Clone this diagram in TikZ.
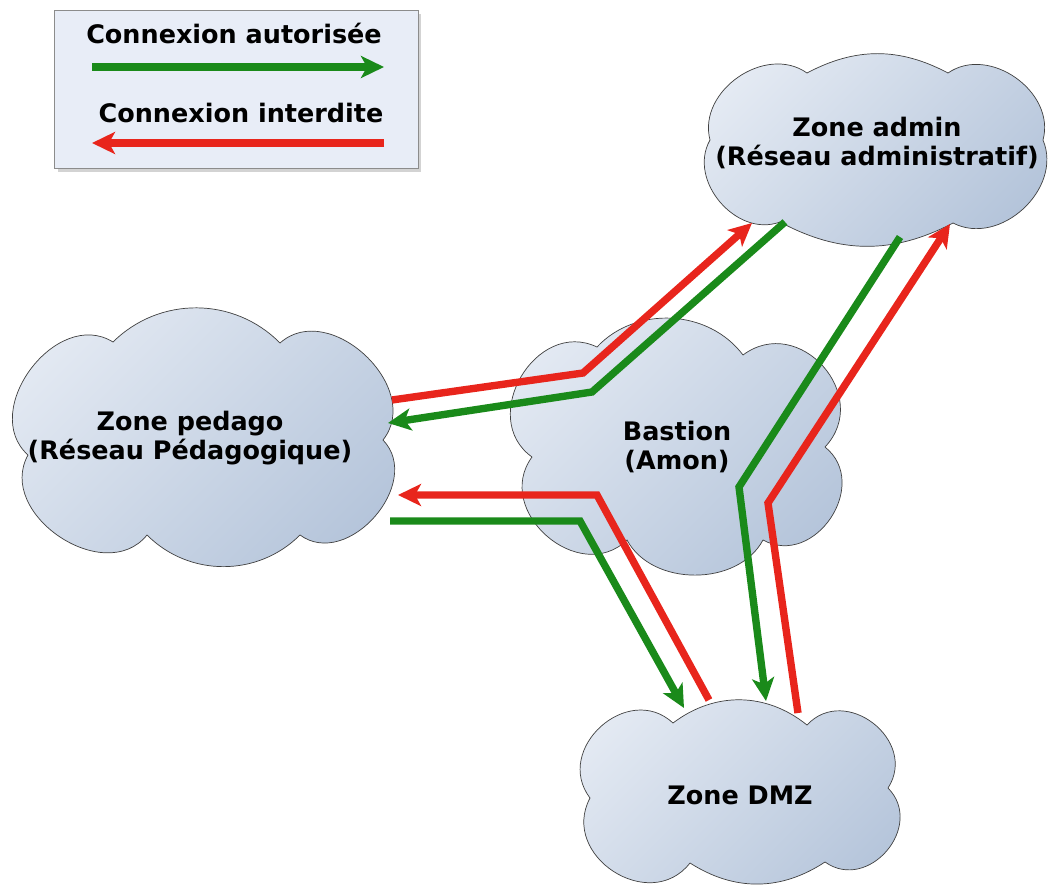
\documentclass[tikz,border=0pt]{standalone}
\usepackage{fontspec}
\setmainfont{DejaVu Sans}
\usetikzlibrary{arrows.meta,shadows,positioning}

\definecolor{okgreen}{HTML}{1A8A1A}
\definecolor{nored}{HTML}{E8251C}
\definecolor{cloudlight}{HTML}{E4EAF3}
\definecolor{clouddark}{HTML}{B4C4DA}
\definecolor{legendfill}{HTML}{E8EDF7}

\tikzset{
          zone/.style={draw=black!75, thin, left color=cloudlight, right color=clouddark, shading angle=45},
          sidepuff/.style={bend left=85, looseness=1.2},
          midpuff/.style={bend left=45},
          lbl/.style={draw=none, fill=none, inner sep=0pt, anchor=center, align=center,
                      font=\bfseries\fontsize{14.5}{17}\selectfont}
        }

\begin{document}
\begin{tikzpicture}[x=0.02cm, y=-0.02cm,
        ok/.style={okgreen, line width=4.2pt, line join=miter,
                   -{Stealth[length=0.46cm, width=0.44cm, inset=0.12cm]}},
        no/.style={nored, line width=4.2pt, line join=miter,
                   -{Stealth[length=0.46cm, width=0.44cm, inset=0.12cm]}}
      ]
  \useasboundingbox (0,0) rectangle (1052,886);

  % legende
  \node[draw=black!45, fill=legendfill, minimum width=7.28cm, minimum height=3.16cm,
        drop shadow={shadow xshift=2pt, shadow yshift=-2pt, opacity=0.35}] (legend) at (236,89) {};
  \node[lbl] (oktext) at (234,33) {Connexion autorisée};
  \node[lbl] (notext) at (241,113) {Connexion interdite};
  \coordinate (okfrom) at (92,67);
  \coordinate (okto) at (384,67);
  \coordinate (nofrom) at (384,143);
  \coordinate (noto) at (92,143);
  \draw[ok] (okfrom) -- (okto);
  \draw[no] (nofrom) -- (noto);

  % nuages
  \draw[zone] (710,140) to[sidepuff, bend left=70, looseness=1.1] (807,73) to[midpuff, bend left=28] (948,73)
              to[sidepuff, bend left=70, looseness=1.1] (1043,140) to[sidepuff, bend left=70, looseness=1.1] (953,223)
              to[midpuff, bend left=28] (780,222) to[sidepuff, bend left=70, looseness=1.1] cycle;
  \draw[zone] (28,455) to[sidepuff] (113,342) to[midpuff] (280,343) to[sidepuff] (383,440)
              to[sidepuff] (300,535) to[midpuff] (147,535) to[sidepuff] cycle;
  \draw[zone] (532,457) to[sidepuff, looseness=1.35] (597,347) to[midpuff, bend left=50] (743,355)
              to[sidepuff, looseness=1.45] (825,447) to[sidepuff, looseness=1.35] (763,540)
              to[midpuff, bend left=62] (627,540) to[sidepuff, looseness=1.35] cycle;
  \draw[zone] (590,798) to[sidepuff, looseness=1.4] (673,723) to[midpuff, bend left=38] (807,725)
              to[sidepuff, looseness=1.4] (888,788) to[sidepuff, looseness=1.4] (825,862)
              to[midpuff, bend left=33] (690,863) to[sidepuff, looseness=1.4] cycle;

  % zones
  \node[lbl] (admin) at (877,143) {Zone admin\\(Réseau administratif)};
  \node[lbl] (pedago) at (190,438) {Zone pedago\\(Réseau Pédagogique)};
  \node[lbl] (bastion) at (677,447) {Bastion\\(Amon)};
  \node[lbl] (dmz) at (740,795) {Zone DMZ};

  % pedago <-> admin
  \draw[no] ([shift={(202,-38)}]pedago.center) -- (583,373) -- ([shift={(-125,80)}]admin.center);
  \draw[ok] ([shift={(-92,79)}]admin.center) -- (592,392) -- ([shift={(198,-15)}]pedago.center);

  % pedago <-> dmz
  \draw[no] ([shift={(-31,-95)}]dmz.center) -- (597,495) -- ([shift={(208,57)}]pedago.center);
  \draw[ok] ([shift={(200,83)}]pedago.center) -- (580,521) -- ([shift={(-56,-87)}]dmz.center);

  % admin <-> dmz
  \draw[ok] ([shift={(23,94)}]admin.center) -- (739,487) -- ([shift={(26,-94)}]dmz.center);
  \draw[no] ([shift={(58,-82)}]dmz.center) -- (768,503) -- ([shift={(73,81)}]admin.center);

\end{tikzpicture}
\end{document}
